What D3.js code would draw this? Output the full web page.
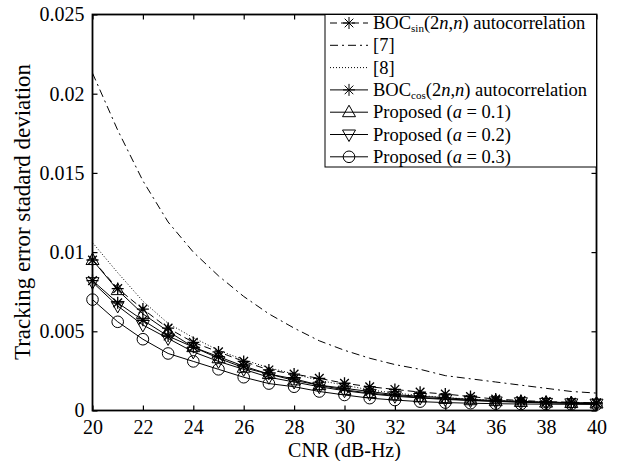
<!DOCTYPE html>
<html>
<head>
<meta charset="utf-8">
<script src="https://cdn.jsdelivr.net/npm/d3@7/dist/d3.min.js"></script>
<style>
  body { margin: 0; background: #fff; }
  text { font-family: "Liberation Serif", "DejaVu Serif", serif; fill: #000; }
</style>
</head>
<body>
<svg id="chart" width="624" height="461"></svg>
<script>
// CNR values (dB-Hz)
var cnr = [20, 21, 22, 23, 24, 25, 26, 27, 28, 29, 30, 31, 32, 33, 34, 35, 36, 37, 38, 39, 40];

// tracking error std
var bocSin = [0.0095, 0.0077, 0.0064, 0.0052, 0.0043, 0.0037, 0.0031, 0.00256, 0.0023, 0.00203, 0.00172,
              0.0015, 0.00133, 0.00116, 0.00104, 0.00088, 0.00072, 0.00063, 0.00056, 0.00052, 0.00048];
var ref7 = [0.0213, 0.0177, 0.0145, 0.0119, 0.0100, 0.0085, 0.0072, 0.0061, 0.0052, 0.0044, 0.0038,
            0.0033, 0.0029, 0.0026, 0.0022, 0.0020, 0.0018, 0.0016, 0.0014, 0.0012, 0.0011];
var ref8 = [0.0106, 0.0087, 0.0069, 0.0055, 0.0046, 0.0038, 0.0032, 0.0027, 0.0023, 0.0019, 0.0016,
            0.0013, 0.0011, 0.00095, 0.00082, 0.00072, 0.00064, 0.00058, 0.00053, 0.00049, 0.00046];
var bocCos = [0.0082, 0.0068, 0.0057, 0.0047, 0.0040, 0.0034, 0.0028, 0.0023, 0.0020, 0.0016, 0.0014,
              0.0012, 0.0010, 0.0009, 0.0008, 0.0007, 0.00063, 0.00058, 0.00053, 0.0005, 0.00047];
var propA1 = [0.0095, 0.0076, 0.0061, 0.0050, 0.0040, 0.0033, 0.0027, 0.0023, 0.0019, 0.0016, 0.0013,
              0.0011, 0.00095, 0.00083, 0.00073, 0.00065, 0.00059, 0.00054, 0.0005, 0.00047, 0.00044];
var propA2 = [0.0081, 0.0066, 0.0054, 0.00455, 0.0037, 0.0031, 0.0026, 0.0021, 0.0018, 0.0015, 0.00125,
              0.00105, 0.0009, 0.00079, 0.0007, 0.00063, 0.00057, 0.00052, 0.00048, 0.00045, 0.00043];
var propA3 = [0.0070, 0.0056, 0.0045, 0.0036, 0.0031, 0.0026, 0.0021, 0.0017, 0.0015, 0.0012, 0.00098,
              0.00078, 0.00066, 0.00056, 0.0005, 0.00046, 0.00043, 0.00041, 0.0004, 0.00039, 0.00038];

var xTicks = [20, 22, 24, 26, 28, 30, 32, 34, 36, 38, 40];
var yTicks = [0, 0.005, 0.01, 0.015, 0.02, 0.025];
var yTickLabels = ["0", "0.005", "0.01", "0.015", "0.02", "0.025"];

var series = [
  { values: bocSin, dash: "7,4",      marker: "star" },
  { values: ref7,   dash: "8,4,2,4",  marker: null },
  { values: ref8,   dash: "1,2",      marker: null },
  { values: bocCos, dash: null,       marker: "star" },
  { values: propA1, dash: null,       marker: "up" },
  { values: propA2, dash: null,       marker: "down" },
  { values: propA3, dash: null,       marker: "circle" }
];

var svg = d3.select("#chart");
var pLeft = 92.5, pRight = 596.5, pTop = 14.5, pBottom = 410.5;

var x = d3.scaleLinear().domain([20, 40]).range([pLeft, pRight]);
var y = d3.scaleLinear().domain([0, 0.025]).range([pBottom, pTop]);

function markerPath(type) {
  var r = 6;
  if (type === "star") {
    var d = r * 0.72;
    return "M" + (-r) + ",0H" + r + "M0," + (-r) + "V" + r +
           "M" + (-d) + "," + (-d) + "L" + d + "," + d +
           "M" + (-d) + "," + d + "L" + d + "," + (-d);
  }
  if (type === "up") return "M0,-7L6.5,4.5L-6.5,4.5Z";
  if (type === "down") return "M0,7L6.5,-4.5L-6.5,-4.5Z";
  if (type === "circle") return d3.arc()({ innerRadius: 0, outerRadius: 5.8, startAngle: 0, endAngle: 2 * Math.PI });
  return "";
}

var line = d3.line()
  .x((d, i) => x(cnr[i]))
  .y(d => y(d));

var plot = svg.append("g").classed("plot", true);

series.forEach(function(s) {
  plot.append("path")
    .attr("d", line(s.values))
    .attr("fill", "none")
    .attr("stroke", "#000")
    .attr("stroke-width", 1)
    .attr("stroke-dasharray", s.dash);

  if (s.marker) {
    plot.selectAll(null)
      .data(s.values)
      .enter()
      .append("path")
      .attr("transform", (d, i) => "translate(" + x(cnr[i]) + "," + y(d) + ")")
      .attr("d", markerPath(s.marker))
      .attr("fill", "none")
      .attr("stroke", "#000")
      .attr("stroke-width", s.marker === "star" ? 1.3 : 1);
  }
});

// axes, ticks pointing inwards on all four sides
var fontSize = "20px";

var xAxis = svg.append("g")
  .attr("transform", "translate(0," + pBottom + ")")
  .call(d3.axisBottom(x).tickValues(xTicks).tickSizeInner(-5).tickSizeOuter(0).tickPadding(9));
var yAxis = svg.append("g")
  .attr("transform", "translate(" + pLeft + ",0)")
  .call(d3.axisLeft(y).tickValues(yTicks).tickSizeInner(-5).tickSizeOuter(0).tickPadding(8)
    .tickFormat((d, i) => yTickLabels[i]));
svg.append("g")
  .attr("transform", "translate(0," + pTop + ")")
  .call(d3.axisTop(x).tickValues(xTicks).tickSizeInner(-5).tickSizeOuter(0).tickFormat(""));
svg.append("g")
  .attr("transform", "translate(" + pRight + ",0)")
  .call(d3.axisRight(y).tickValues(yTicks).tickSizeInner(-5).tickSizeOuter(0).tickFormat(""));

svg.selectAll(".domain").remove();
svg.selectAll(".tick line").attr("stroke", "#000").attr("stroke-width", 1.2);
xAxis.selectAll("text").attr("font-size", fontSize).attr("font-family", "Liberation Serif").attr("fill", "#000");
yAxis.selectAll("text").attr("font-size", fontSize).attr("font-family", "Liberation Serif").attr("fill", "#000");

svg.append("rect")
  .attr("x", pLeft).attr("y", pTop)
  .attr("width", pRight - pLeft).attr("height", pBottom - pTop)
  .attr("fill", "none")
  .attr("stroke", "#000")
  .attr("stroke-width", 1.8);

// axis titles
svg.append("text")
  .attr("x", (pLeft + pRight) / 2)
  .attr("y", 457)
  .attr("font-size", "20px")
  .style("text-anchor", "middle")
  .text("CNR (dB-Hz)");

svg.append("text")
  .attr("transform", "translate(30," + 212 + ") rotate(-90)")
  .attr("font-size", "23px")
  .style("text-anchor", "middle")
  .text("Tracking error stadard deviation");

// legend
var lg = svg.append("g").classed("legend", true);
var lgLeft = 325, lgTop = pTop, lgBottom = 167, rowH = 22.3;

lg.append("rect")
  .attr("x", lgLeft).attr("y", lgTop)
  .attr("width", pRight - lgLeft).attr("height", lgBottom - lgTop)
  .attr("fill", "#fff")
  .attr("stroke", "#000")
  .attr("stroke-width", 1);

var rows = lg.selectAll(".row")
  .data(series)
  .enter()
  .append("g")
  .classed("row", true)
  .attr("transform", (d, i) => "translate(0," + (lgTop + 8.5 + rowH * i) + ")");

rows.append("line")
  .attr("x1", 330).attr("x2", 368)
  .attr("stroke", "#000")
  .attr("stroke-width", 1)
  .attr("stroke-dasharray", d => d.dash);

rows.filter(d => d.marker)
  .append("path")
  .attr("transform", "translate(349,0)")
  .attr("d", d => markerPath(d.marker))
  .attr("fill", "none")
  .attr("stroke", "#000")
  .attr("stroke-width", 1);

var labels = rows.append("text")
  .attr("x", 373)
  .attr("y", 6)
  .attr("font-size", "18.5px");

function bocLabel(t, sub) {
  t.append("tspan").text("BOC");
  t.append("tspan").attr("font-size", "11px").attr("dy", 3).text(sub);
  t.append("tspan").attr("dy", -3).text("(2");
  t.append("tspan").attr("font-style", "italic").text("n");
  t.append("tspan").text(",");
  t.append("tspan").attr("font-style", "italic").text("n");
  t.append("tspan").text(") autocorrelation");
}
function propLabel(t, a) {
  t.append("tspan").text("Proposed (");
  t.append("tspan").attr("font-style", "italic").text("a");
  t.append("tspan").text(" = " + a + ")");
}

labels.each(function(d, i) {
  var t = d3.select(this);
  if (i === 0) bocLabel(t, "sin");
  else if (i === 1) t.text("[7]");
  else if (i === 2) t.text("[8]");
  else if (i === 3) bocLabel(t, "cos");
  else propLabel(t, ["0.1", "0.2", "0.3"][i - 4]);
});
</script>
</body>
</html>
